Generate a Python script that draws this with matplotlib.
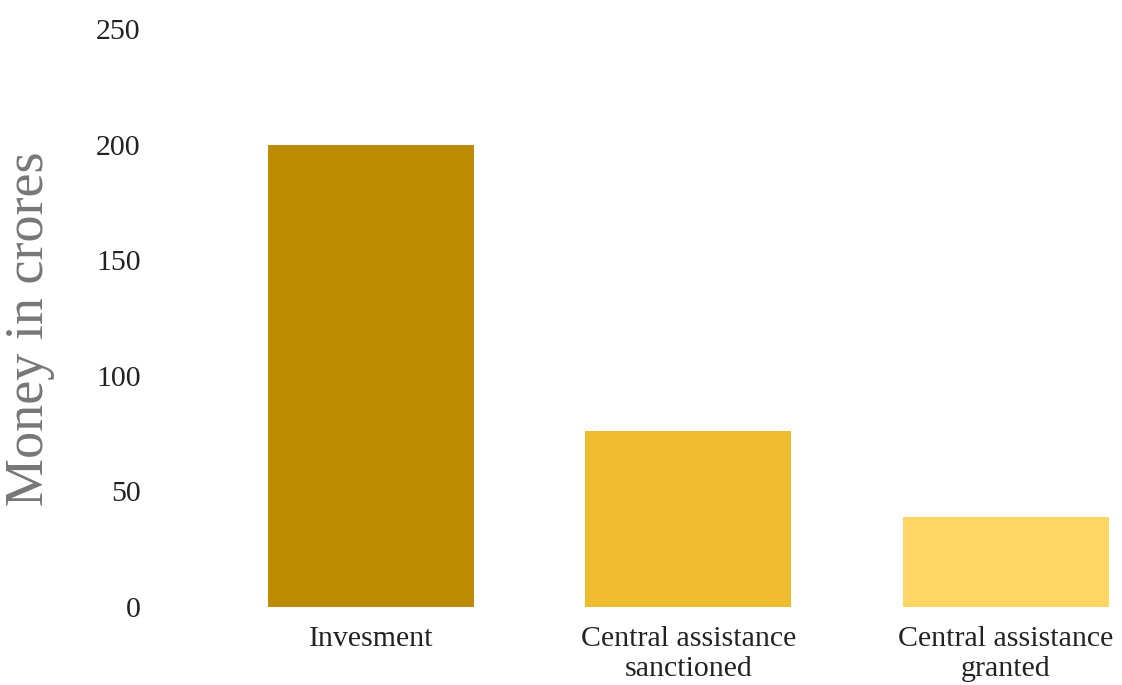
import matplotlib.pyplot as plt

# data
categories = ["Invesment", "Central assistance\nsanctioned", "Central assistance\ngranted"]
values = [200, 76, 39]
bar_colors = ["#BD8B00", "#EEBC2E", "#FFD563"]
y_ticks = [0, 50, 100, 150, 200, 250]

plt.rcParams['font.family'] = ['Liberation Serif', 'DejaVu Serif']

fig = plt.figure(figsize=(11.22, 6.85), dpi=100)
ax = fig.add_axes([174 / 1122, 78 / 685, (1120 - 174) / 1122, (656 - 78) / 685])

x = list(range(len(categories)))
ax.bar(x, values, width=0.65, color=bar_colors, edgecolor='none')

ax.set_xlim(-0.62, 2.36)
ax.set_ylim(0, 250)
ax.set_yticks(y_ticks)
ax.set_yticklabels([str(t) for t in y_ticks], fontsize=21.5, color='#222222')
ax.set_xticks(x)
ax.set_xticklabels(categories, fontsize=21.5, color='#222222', linespacing=1.2)
ax.tick_params(axis='y', length=0, pad=24)
ax.tick_params(axis='x', length=0, pad=14)

for s in ax.spines.values():
    s.set_visible(False)

fig.text(30 / 1122, 1 - 329 / 685, 'Money in crores', rotation=90, fontsize=39,
         color='#777777', ha='center', va='center')

fig.savefig('out.png', dpi=100)
